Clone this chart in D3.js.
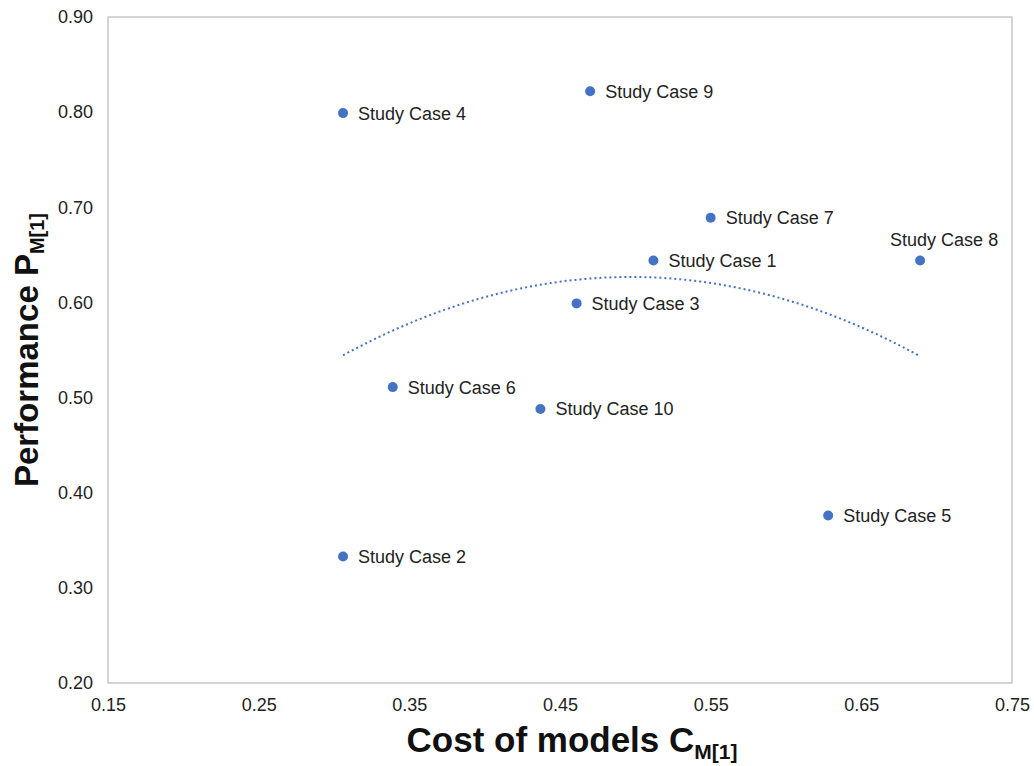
<!DOCTYPE html>
<html>
<head>
<meta charset="utf-8">
<script src="https://cdn.jsdelivr.net/npm/d3@7"></script>
<style>
  html, body { margin: 0; padding: 0; background: #fff; }
  text { font-family: "Liberation Sans", Arial, sans-serif; }
</style>
</head>
<body>
<svg id="chart" width="1034" height="766"></svg>
<script>
const caseNames = ["Study Case 1","Study Case 2","Study Case 3","Study Case 4","Study Case 5",
                   "Study Case 6","Study Case 7","Study Case 8","Study Case 9","Study Case 10"];
const costValues = [0.512, 0.306, 0.461, 0.306, 0.628, 0.339, 0.550, 0.689, 0.470, 0.437];
const perfValues = [0.644, 0.333, 0.599, 0.799, 0.376, 0.511, 0.689, 0.644, 0.822, 0.488];
const xTicks = [0.15, 0.25, 0.35, 0.45, 0.55, 0.65, 0.75];
const yTicks = [0.20, 0.30, 0.40, 0.50, 0.60, 0.70, 0.80, 0.90];

(function () {
const svg = d3.select("#chart");
const pL = 108, pR = 1012, pT = 17, pB = 683;
const x = d3.scaleLinear().domain([0.15, 0.75]).range([pL, pR]);
const y = d3.scaleLinear().domain([0.20, 0.90]).range([pB, pT]);

// plot area border
svg.append("rect").attr("x", pL).attr("y", pT)
  .attr("width", pR - pL).attr("height", pB - pT)
  .attr("fill", "none").attr("stroke", "#bfbfbf").attr("stroke-width", 1.3);

// axes labels
const xAxis = d3.axisBottom(x).tickValues(xTicks).tickFormat(d3.format(".2f")).tickSize(0).tickPadding(15);
const gx = svg.append("g").attr("transform", `translate(0,${pB})`).call(xAxis);
gx.select(".domain").remove();
gx.selectAll("text").attr("font-size", 18).attr("fill", "#222").attr("font-family", "Liberation Sans, Arial, sans-serif");

const yAxis = d3.axisLeft(y).tickValues(yTicks).tickFormat(d3.format(".2f")).tickSize(0).tickPadding(15);
const gy = svg.append("g").attr("transform", `translate(${pL},0)`).call(yAxis);
gy.select(".domain").remove();
gy.selectAll("text").attr("font-size", 18).attr("fill", "#222").attr("font-family", "Liberation Sans, Arial, sans-serif");

// polynomial (order 2) trendline via least squares
const n = costValues.length;
let S = [0,0,0,0,0], T = [0,0,0];
for (let i = 0; i < n; i++) {
  const xv = costValues[i], yv = perfValues[i];
  for (let k = 0; k < 5; k++) S[k] += Math.pow(xv, k);
  for (let k = 0; k < 3; k++) T[k] += yv * Math.pow(xv, k);
}
const A = [[S[0],S[1],S[2],T[0]],[S[1],S[2],S[3],T[1]],[S[2],S[3],S[4],T[2]]];
for (let c = 0; c < 3; c++) {
  let p = c;
  for (let r = c+1; r < 3; r++) if (Math.abs(A[r][c]) > Math.abs(A[p][c])) p = r;
  [A[c], A[p]] = [A[p], A[c]];
  for (let r = 0; r < 3; r++) if (r !== c) {
    const f = A[r][c] / A[c][c];
    for (let k = c; k < 4; k++) A[r][k] -= f * A[c][k];
  }
}
const coef = [A[0][3]/A[0][0], A[1][3]/A[1][1], A[2][3]/A[2][2]];
const xmin = d3.min(costValues), xmax = d3.max(costValues);
const trend = d3.range(0, 101).map(i => {
  const xv = xmin + (xmax - xmin) * i / 100;
  return [xv, coef[0] + coef[1]*xv + coef[2]*xv*xv];
});
svg.append("path").datum(trend)
  .attr("d", d3.line().x(d => x(d[0])).y(d => y(d[1])))
  .attr("fill", "none").attr("stroke", "#4472c4").attr("stroke-width", 2)
  .attr("stroke-dasharray", "2,3");

// points
const data = caseNames.map((nm, i) => ({name: nm, c: costValues[i], p: perfValues[i]}));
svg.append("g").selectAll("circle").data(data).join("circle")
  .attr("cx", d => x(d.c)).attr("cy", d => y(d.p)).attr("r", 5)
  .attr("fill", "#4472c4");

// labels
const above = d => d.name === "Study Case 8";
svg.append("g").selectAll("text").data(data).join("text")
  .attr("x", d => above(d) ? x(d.c) - 30 : x(d.c) + 15)
  .attr("y", d => above(d) ? y(d.p) - 15 : y(d.p) + 6.5)
  .attr("font-size", 18).attr("fill", "#222")
  .text(d => d.name);

// axis titles
const xt = svg.append("text").attr("x", 572).attr("y", 752).attr("text-anchor", "middle")
  .attr("font-size", 35).attr("font-weight", "bold").attr("fill", "#111");
xt.append("tspan").text("Cost of models C");
xt.append("tspan").attr("font-size", 21).attr("dy", 7).text("M[1]");

const yt = svg.append("text").attr("transform", `translate(38,${(pT+pB)/2}) rotate(-90)`)
  .attr("text-anchor", "middle").attr("font-size", 33).attr("font-weight", "bold").attr("fill", "#111");
yt.append("tspan").text("Performance P");
yt.append("tspan").attr("font-size", 20).attr("dy", 6).text("M[1]");
})();
</script>
</body>
</html>
